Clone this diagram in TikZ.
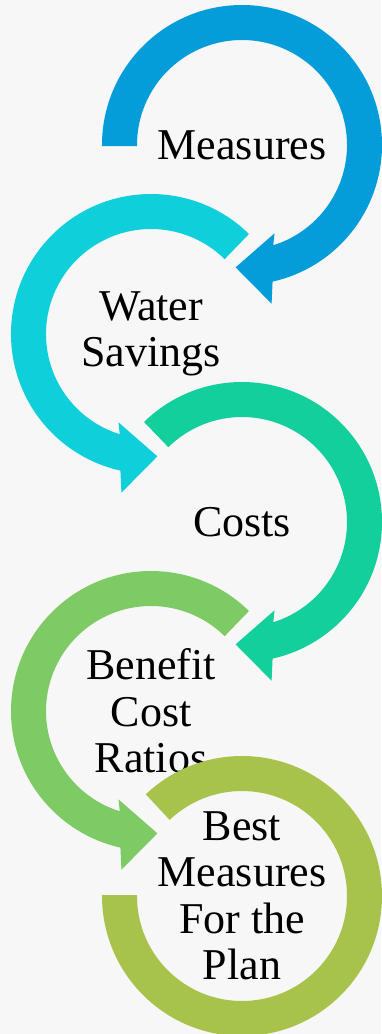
\documentclass[tikz,border=0pt]{standalone}
\usepackage{fontspec}
\setmainfont{Liberation Serif}

\definecolor{bgpaper}{HTML}{F7F7F7}
\definecolor{stepblue}{HTML}{049DD9}
\definecolor{stepcyan}{HTML}{0FCFDA}
\definecolor{stepteal}{HTML}{13CF9C}
\definecolor{steplime}{HTML}{7ECB66}
\definecolor{stepolive}{HTML}{A8C34C}

\begin{document}
\begin{tikzpicture}[x=1pt, y=1pt,
    band/.style={draw=white, line width=2pt, line join=miter},
    label/.style={align=center, inner sep=0pt, font=\fontsize{44}{46.5}\selectfont}]
    % Page and background
    \useasboundingbox (0,0) rectangle (381,-1034);
    \fill[bgpaper] (0,0) rectangle (381,-1034);

    % Ring centres
    \coordinate (c1) at (242,-145);
    \coordinate (c2) at (151,-334);
    \coordinate (c3) at (242,-522);
    \coordinate (c4) at (151,-711);
    \coordinate (c5) at (242,-896);

    % Arrow 1, clockwise
    \begin{scope}[shift={(c1)}]
        \fill[band, stepblue] (180:139) arc[start angle=180, end angle=-77.7, radius=139]
            -- (-79.6:159) -- (-92.3:122.5) -- (-71:96) -- (-73.5:106)
            arc[start angle=-73.5, end angle=180, radius=106] -- cycle;
    \end{scope}
    \node[label] (measures) at (c1) {Measures};

    % Arrow 2, counter-clockwise
    \begin{scope}[shift={(c2)}]
        \fill[band, stepcyan] (46:139) arc[start angle=46, end angle=257.7, radius=139]
            -- (259.6:159) -- (272.3:122.5) -- (251:96) -- (253.5:106)
            arc[start angle=253.5, end angle=46, radius=106] -- cycle;
    \end{scope}
    \node[label] (savings) at (c2) {Water\\Savings};

    % Arrow 3, clockwise
    \begin{scope}[shift={(c3)}]
        \fill[band, stepteal] (134:139) arc[start angle=134, end angle=-77.7, radius=139]
            -- (-79.6:159) -- (-92.3:122.5) -- (-71:96) -- (-73.5:106)
            arc[start angle=-73.5, end angle=134, radius=106] -- cycle;
    \end{scope}
    \node[label] (costs) at (c3) {Costs};

    % Arrow 4, counter-clockwise
    \begin{scope}[shift={(c4)}]
        \fill[band, steplime] (46:139) arc[start angle=46, end angle=257.7, radius=139]
            -- (259.6:159) -- (272.3:122.5) -- (251:96) -- (253.5:106)
            arc[start angle=253.5, end angle=46, radius=106] -- cycle;
    \end{scope}
    \node[label] (ratios) at (c4) {Benefit\\Cost\\Ratios};

    % Final ring, no arrow head
    \begin{scope}[shift={(c5)}]
        \fill[band, stepolive] (133:139) arc[start angle=133, end angle=-180, radius=139]
            -- (180:106) arc[start angle=-180, end angle=133, radius=106] -- cycle;
    \end{scope}
    \node[label] (best) at (c5) {Best\\Measures\\For the\\Plan};
\end{tikzpicture}
\end{document}
